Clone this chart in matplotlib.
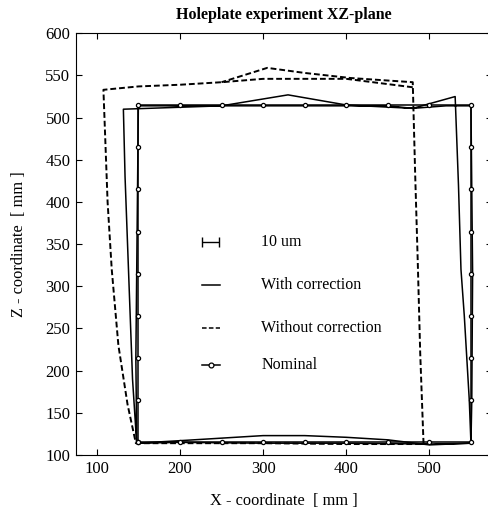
import numpy as np
import matplotlib
matplotlib.use('Agg')
import matplotlib.pyplot as plt

plt.rcParams['font.family'] = ['Liberation Serif', 'DejaVu Serif']

# nominal hole positions (every 50 mm round the plate edge)
nom_x = [150, 200, 250, 300, 350, 400, 450, 500, 550,
         550, 550, 550, 550, 550, 550, 550, 550,
         500, 450, 400, 350, 300, 250, 200, 150,
         150, 150, 150, 150, 150, 150, 150, 150]
nom_z = [115, 115, 115, 115, 115, 115, 115, 115, 115,
         165, 215, 265, 315, 365, 415, 465, 515,
         515, 515, 515, 515, 515, 515, 515, 515,
         465, 415, 365, 315, 265, 215, 165, 115]

# measured, with correction (two passes round the plate)
corr_x = [148, 200, 300, 400, 500, 550,
          548, 545, 542, 538, 535, 531,
          480, 400, 330, 250, 132,
          134, 137, 140, 143, 148,
          200, 250, 300, 350, 400, 450, 500, 550,
          551, 552, 551, 550,
          520, 480, 450, 350, 250, 150,
          149, 148, 147, 148]
corr_z = [114, 115, 114, 114, 113, 114,
          165, 215, 265, 320, 420, 525,
          511, 515, 527, 514, 510,
          430, 350, 270, 190, 114,
          117, 120, 123, 123, 121, 118, 112, 114,
          165, 315, 415, 514,
          514, 511, 514, 514, 514, 514,
          415, 315, 215, 114]

# measured, without correction
raw_x = [480, 400, 300, 250, 200, 150, 108,
         110, 113, 118, 126, 137, 147,
         200, 300, 400, 493,
         489, 486, 483, 480,
         405, 350, 305, 250]
raw_z = [536, 546, 546, 542, 539, 537, 533,
         480, 400, 320, 230, 160, 114,
         114, 114, 113, 113,
         220, 330, 430, 542,
         547, 553, 559, 542]

fig = plt.figure(figsize=(4.89, 5.17), dpi=100)
ax = fig.add_axes([0.1554, 0.1199, 0.8502, 0.8157])

ax.plot(corr_x, corr_z, '-', color='black', lw=1.1)
ax.plot(raw_x, raw_z, '--', color='black', lw=1.4, dashes=(3, 1.5))
ax.plot(nom_x, nom_z, '-o', color='black', lw=1.1, ms=3, mfc='white', mew=0.9)

# legend drawn by hand, like the original
ax.errorbar([237], [352], xerr=[[10], [10]], fmt='none', ecolor='black', elinewidth=1, capsize=3.5, capthick=1)
ax.plot([227, 248], [302, 302], '-', color='black', lw=1.1)
ax.plot([227, 248], [251, 251], '--', color='black', lw=1.1, dashes=(3, 1.5))
ax.plot([227, 248], [207, 207], '-', color='black', lw=1.1)
ax.plot([237], [207], 'o', color='black', ms=3.5, mfc='white', mew=0.9)
ax.text(298, 352, '10 um', fontsize=11.5, va='center')
ax.text(298, 302, 'With correction', fontsize=11.5, va='center')
ax.text(298, 251, 'Without correction', fontsize=11.5, va='center')
ax.text(298, 207, 'Nominal', fontsize=11.5, va='center')

ax.set_xlim(75, 575)
ax.set_ylim(100, 600)
ax.set_xticks([100, 200, 300, 400, 500])
ax.set_yticks(np.arange(100, 601, 50))
ax.tick_params(direction='in', top=True, right=True, length=4, labelsize=12, pad=4)

ax.set_title('Holeplate experiment XZ-plane', fontsize=11.5, fontweight='bold', pad=10)
ax.set_xlabel('X - coordinate  [ mm ]', fontsize=11.8, labelpad=12)
ax.set_ylabel('Z - coordinate  [ mm ]', fontsize=11.8, labelpad=13)

plt.savefig('out.png', dpi=100)
